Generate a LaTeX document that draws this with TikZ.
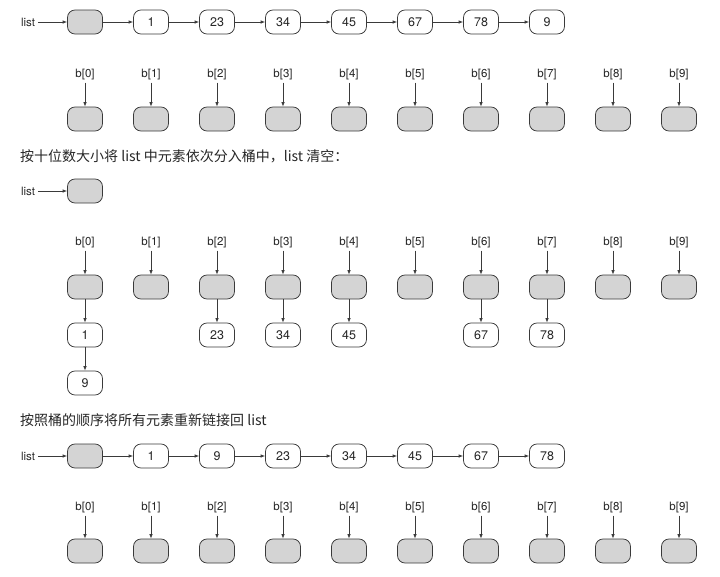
\documentclass[tikz,border=0pt]{standalone}
\usepackage{fontspec}
\setmainfont{TeX Gyre Heros}
\newfontfamily\cjk{Noto Sans CJK SC}
\usetikzlibrary{arrows.meta}
\definecolor{edge}{HTML}{3A3A3A}
\definecolor{bucketfill}{HTML}{D4D4D4}
\tikzset{
  elem/.style={draw=edge, line width=0.75pt, rounded corners=7.5pt, minimum width=35pt, minimum height=24pt, inner sep=0pt, font=\fontsize{12.5}{14}\selectfont, fill=white, text=black!85},
  gbox/.style={elem, fill=bucketfill},
  lbl/.style={inner sep=0pt, font=\fontsize{11.5}{13}\selectfont, text=black!85},
  conn/.style={draw=edge, line width=0.75pt, -{Latex[length=4.5pt,width=3.5pt]}},
  title/.style={inner sep=0pt, anchor=west, font=\cjk\fontsize{14}{16}\selectfont, text=black!85}
}
\begin{document}
\begin{tikzpicture}[x=1pt,y=-1pt]
\useasboundingbox (0,0) rectangle (720,576);
% ---------- Row 1 ----------
\node[lbl] (L1) at (28,22) {list};
\node[gbox] (A0) at (85,22) {};
\draw[conn] (L1.east) ++(3,0) coordinate (L1s) -- (A0.west);
\foreach \v [count=\i] in {1,23,34,45,67,78,9} {
  \node[elem] (A\i) at ({85+66*\i},22) {\v};
}
\foreach \i [evaluate=\i as \j using int(\i-1)] in {1,...,7} {
  \draw[conn] (A\j) -- (A\i);
}
\foreach \i in {0,...,9} {
  \node[lbl] (BA\i) at ({85+66*\i},75) {b[\i]};
  \node[gbox] (KA\i) at ({85+66*\i},119) {};
  \draw[conn] (BA\i.south) ++(0,2) -- (KA\i.north);
}
% ---------- Text 1 ----------
\node[title] (T1) at (20,156) {按十位数大小将 list 中元素依次分入桶中，list 清空：};
% ---------- Row 2 ----------
\node[lbl] (L2) at (28,191) {list};
\node[gbox] (C0) at (85,191) {};
\draw[conn] (L2.east) ++(3,0) -- (C0.west);
\foreach \i in {0,...,9} {
  \node[lbl] (BB\i) at ({85+66*\i},243) {b[\i]};
  \node[gbox] (KB\i) at ({85+66*\i},287) {};
  \draw[conn] (BB\i.south) ++(0,2) -- (KB\i.north);
}
\foreach \c/\v in {0/1,2/23,3/34,4/45,6/67,7/78} {
  \node[elem] (E\c) at ({85+66*\c},335) {\v};
  \draw[conn] (KB\c) -- (E\c);
}
\node[elem] (E9) at (85,383) {9};
\draw[conn] (E0) -- (E9);
% ---------- Text 2 ----------
\node[title] (T2) at (20,420) {按照桶的顺序将所有元素重新链接回 list};
% ---------- Row 3 ----------
\node[lbl] (L3) at (28,456) {list};
\node[gbox] (D0) at (85,456) {};
\draw[conn] (L3.east) ++(3,0) -- (D0.west);
\foreach \v [count=\i] in {1,9,23,34,45,67,78} {
  \node[elem] (D\i) at ({85+66*\i},456) {\v};
}
\foreach \i [evaluate=\i as \j using int(\i-1)] in {1,...,7} {
  \draw[conn] (D\j) -- (D\i);
}
\foreach \i in {0,...,9} {
  \node[lbl] (BC\i) at ({85+66*\i},508) {b[\i]};
  \node[gbox] (KC\i) at ({85+66*\i},551) {};
  \draw[conn] (BC\i.south) ++(0,2) -- (KC\i.north);
}
\end{tikzpicture}
\end{document}
